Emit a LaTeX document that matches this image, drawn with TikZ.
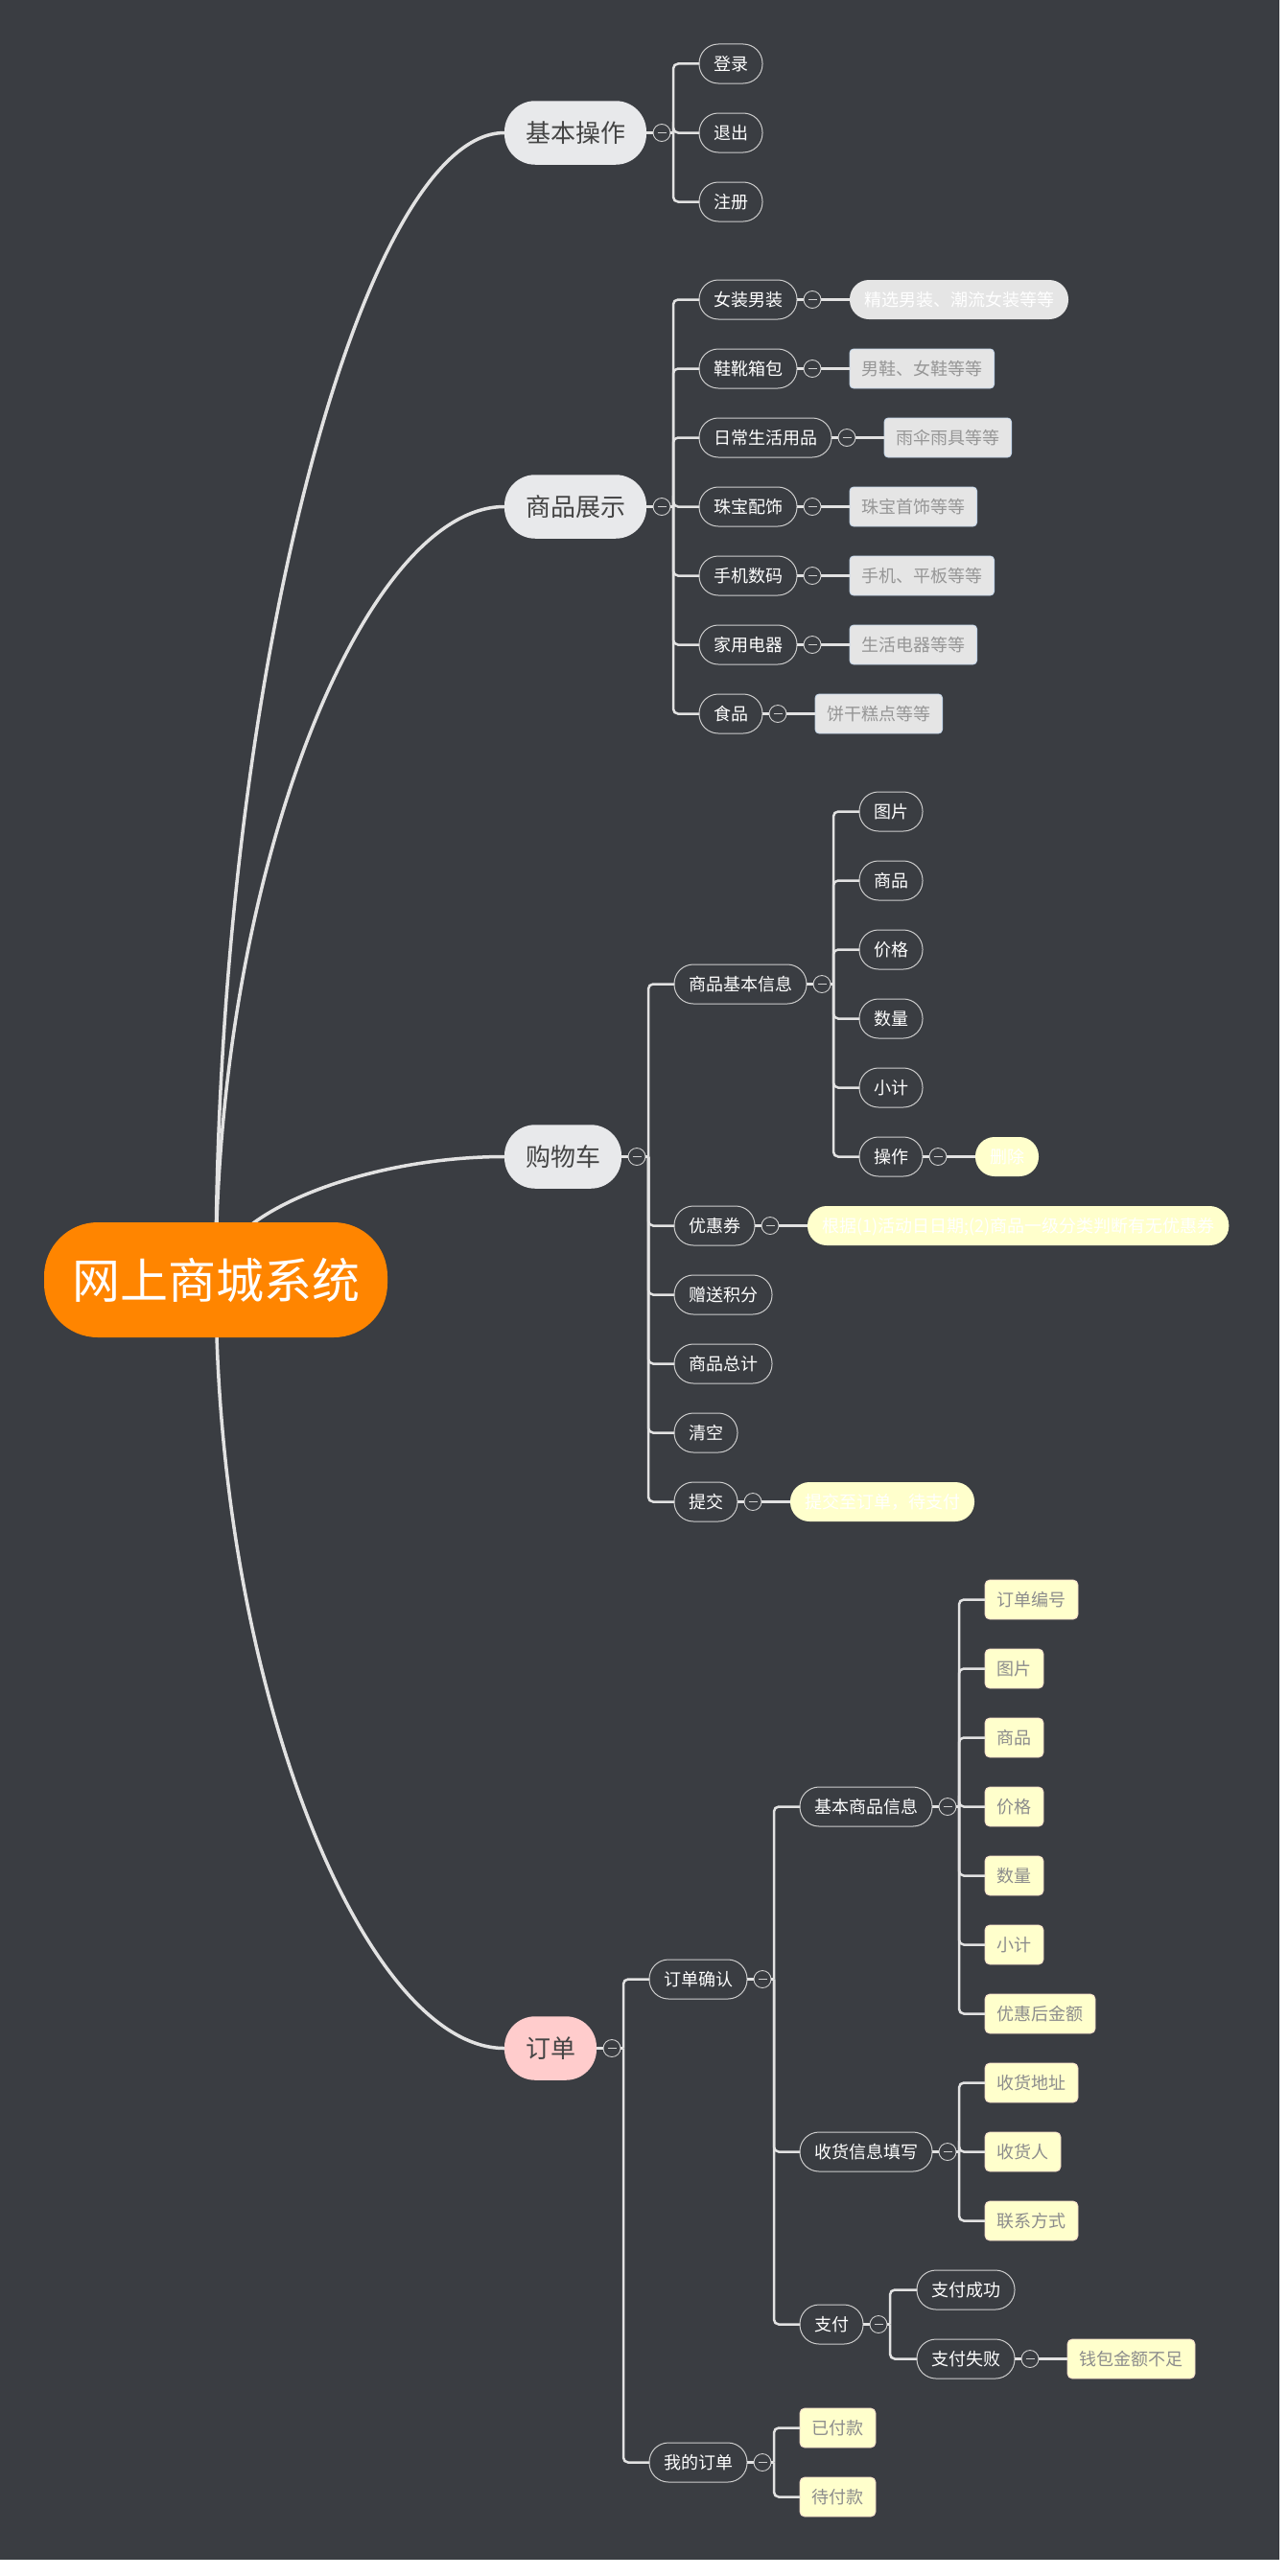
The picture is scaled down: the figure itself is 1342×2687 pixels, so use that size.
\documentclass[tikz,border=0pt]{standalone}
\usepackage{fontspec}
\newfontfamily\cjk{Noto Sans CJK SC}
\usetikzlibrary{calc}
\definecolor{bg}{RGB}{58,61,66}
\definecolor{linecol}{RGB}{226,226,226}
\definecolor{subline}{RGB}{205,205,205}
\definecolor{mainfill}{RGB}{232,233,235}
\definecolor{maintext}{RGB}{68,68,68}
\definecolor{rootfill}{RGB}{255,133,0}
\definecolor{pinkfill}{RGB}{255,204,204}
\definecolor{notegray}{RGB}{229,229,229}
\definecolor{noteblue}{RGB}{196,214,234}
\definecolor{notetext}{RGB}{150,150,150}
\definecolor{yel}{RGB}{255,255,204}
\definecolor{yelborder}{RGB}{242,216,200}
\definecolor{yeltext}{RGB}{140,140,140}
\newcommand\mmfork[2]{%
  \node[mmcol] (#1c) at ($(#1.east)+(16,0)$) {};
  \draw[mmminus] ($(#1c)+(-4.5,0)$) -- ($(#1c)+(4.5,0)$);
  \draw[mmbr] (#1.east) -- (#1c.west);
  \draw[mmbr] (#1c.east) -- ($(#1.east)+(28,0)$);
  \foreach \ch in {#2}{\draw[mmbr, rounded corners=5pt] ($(#1.east)+(28,0)$) |- (\ch.west);}
}
\newcommand\mmone[2]{%
  \node[mmcol] (#1c) at ($(#1.east)+(16,0)$) {};
  \draw[mmminus] ($(#1c)+(-4.5,0)$) -- ($(#1c)+(4.5,0)$);
  \draw[mmbr] (#1.east) -- (#1c.west);
  \draw[mmbr] (#1c.east) -- (#2.west);
}
\begin{document}
\begin{tikzpicture}[x=1pt,y=-1pt,
  mmbase/.style={rectangle, inner ysep=0pt, outer sep=0pt},
  small/.style={mmbase, minimum height=41pt, text height=15.84pt, text depth=2.16pt,
     font=\cjk\fontsize{18}{18}\selectfont},
  mmsub/.style={small, draw=subline, line width=1pt, fill=bg, text=white,
     rounded corners=20pt, inner xsep=15pt},
  mmmain/.style={mmbase, minimum height=66.5pt, text height=22.9pt, text depth=3.1pt,
     font=\cjk\fontsize{26}{26}\selectfont, fill=mainfill, text=maintext,
     rounded corners=32pt, inner xsep=22pt},
  mmroot/.style={mmbase, minimum height=120pt, text height=44pt, text depth=6pt,
     font=\cjk\fontsize{50}{50}\selectfont, fill=rootfill, text=white,
     rounded corners=56pt, inner xsep=29pt},
  graynote/.style={small, fill=notegray, draw=noteblue, line width=0.8pt, text=notetext,
     rounded corners=4pt, inner xsep=12.3pt},
  graypill/.style={small, fill=notegray, text=white, rounded corners=20pt, inner xsep=15pt},
  yelpill/.style={small, fill=yel, text=white, rounded corners=20pt, inner xsep=15pt},
  yelnote/.style={small, fill=yel, draw=yelborder, line width=0.8pt, text=yeltext,
     rounded corners=5pt, inner xsep=12.5pt},
  mmcol/.style={circle, minimum size=18pt, inner sep=0pt, draw=subline, line width=0.9pt, fill=bg},
  mmminus/.style={draw=subline, line width=0.9pt},
  mmbr/.style={draw=linecol, line width=2.5pt},
  mainline/.style={draw=linecol, line width=3.5pt}
]
\fill[white] (0,0) rectangle (1342,2687);
\fill[bg] (0,0) rectangle (1334,2670);
\useasboundingbox (0,0) rectangle (1342,2687);

\coordinate (rc) at (225,1335);

% main branches
\node[mmmain, anchor=west] (jb) at (526,138.5) {基本操作};
\node[mmmain, anchor=west] (sp) at (526,528.5) {商品展示};
\node[mmmain, anchor=west] (gwc) at (526,1206.5) {购物车};
\node[mmmain, anchor=west, fill=pinkfill] (dd) at (526,2136.5) {订单};

\draw[mainline] (rc) .. controls (225,701) and (380,138.5) .. (jb.west);
\draw[mainline] (rc) .. controls (225,907.6) and (380,528.5) .. (sp.west);
\draw[mainline] (rc) .. controls (225,1266.6) and (380,1206.5) .. (gwc.west);
\draw[mainline] (rc) .. controls (225,1759.5) and (380,2136.5) .. (dd.west);

\node[mmroot] (root) at (rc) {网上商城系统};

% 基本操作
\node[mmsub, anchor=west] (jb1) at (729,66.5) {登录};
\node[mmsub, anchor=west] (jb2) at (729,138.5) {退出};
\node[mmsub, anchor=west] (jb3) at (729,210.5) {注册};
\mmfork{jb}{jb1,jb2,jb3}

% 商品展示
\node[mmsub, anchor=west] (sp1) at (729,312.5) {女装男装};
\node[mmsub, anchor=west] (sp2) at (729,384.5) {鞋靴箱包};
\node[mmsub, anchor=west] (sp3) at (729,456.5) {日常生活用品};
\node[mmsub, anchor=west] (sp4) at (729,528.5) {珠宝配饰};
\node[mmsub, anchor=west] (sp5) at (729,600.5) {手机数码};
\node[mmsub, anchor=west] (sp6) at (729,672.5) {家用电器};
\node[mmsub, anchor=west] (sp7) at (729,744.5) {食品};
\mmfork{sp}{sp1,sp2,sp3,sp4,sp5,sp6,sp7}
\node[graypill, anchor=west] (sp1n) at ($(sp1.east)+(55,0)$) {精选男装、潮流女装等等};
\node[graynote, anchor=west] (sp2n) at ($(sp2.east)+(55,0)$) {男鞋、女鞋等等};
\node[graynote, anchor=west] (sp3n) at ($(sp3.east)+(55,0)$) {雨伞雨具等等};
\node[graynote, anchor=west] (sp4n) at ($(sp4.east)+(55,0)$) {珠宝首饰等等};
\node[graynote, anchor=west] (sp5n) at ($(sp5.east)+(55,0)$) {手机、平板等等};
\node[graynote, anchor=west] (sp6n) at ($(sp6.east)+(55,0)$) {生活电器等等};
\node[graynote, anchor=west] (sp7n) at ($(sp7.east)+(55,0)$) {饼干糕点等等};
\mmone{sp1}{sp1n}
\mmone{sp2}{sp2n}
\mmone{sp3}{sp3n}
\mmone{sp4}{sp4n}
\mmone{sp5}{sp5n}
\mmone{sp6}{sp6n}
\mmone{sp7}{sp7n}

% 购物车
\node[mmsub, anchor=west] (g1) at (703,1026.5) {商品基本信息};
\node[mmsub, anchor=west] (g2) at (703,1278.5) {优惠券};
\node[mmsub, anchor=west] (g3) at (703,1350.5) {赠送积分};
\node[mmsub, anchor=west] (g4) at (703,1422.5) {商品总计};
\node[mmsub, anchor=west] (g5) at (703,1494.5) {清空};
\node[mmsub, anchor=west] (g6) at (703,1566.5) {提交};
\mmfork{gwc}{g1,g2,g3,g4,g5,g6}
\node[mmsub, anchor=west] (g11) at (896,846.5) {图片};
\node[mmsub, anchor=west] (g12) at (896,918.5) {商品};
\node[mmsub, anchor=west] (g13) at (896,990.5) {价格};
\node[mmsub, anchor=west] (g14) at (896,1062.5) {数量};
\node[mmsub, anchor=west] (g15) at (896,1134.5) {小计};
\node[mmsub, anchor=west] (g16) at (896,1206.5) {操作};
\mmfork{g1}{g11,g12,g13,g14,g15,g16}
\node[yelpill, anchor=west] (g16n) at ($(g16.east)+(55,0)$) {删除};
\mmone{g16}{g16n}
\node[yelpill, anchor=west] (g2n) at ($(g2.east)+(55,0)$) {根据(1)活动日日期;(2)商品一级分类判断有无优惠券};
\mmone{g2}{g2n}
\node[yelpill, anchor=west] (g6n) at ($(g6.east)+(55,0)$) {提交至订单，待支付};
\mmone{g6}{g6n}

% 订单
\node[mmsub, anchor=west] (d1) at (677,2064.5) {订单确认};
\node[mmsub, anchor=west] (d2) at (677,2568.5) {我的订单};
\mmfork{dd}{d1,d2}
\node[mmsub, anchor=west] (d11) at (834,1884.5) {基本商品信息};
\node[mmsub, anchor=west] (d12) at (834,2244.5) {收货信息填写};
\node[mmsub, anchor=west] (d13) at (834,2424.5) {支付};
\mmfork{d1}{d11,d12,d13}
\node[yelnote, anchor=west] (e1) at (1027,1668.5) {订单编号};
\node[yelnote, anchor=west] (e2) at (1027,1740.5) {图片};
\node[yelnote, anchor=west] (e3) at (1027,1812.5) {商品};
\node[yelnote, anchor=west] (e4) at (1027,1884.5) {价格};
\node[yelnote, anchor=west] (e5) at (1027,1956.5) {数量};
\node[yelnote, anchor=west] (e6) at (1027,2028.5) {小计};
\node[yelnote, anchor=west] (e7) at (1027,2100.5) {优惠后金额};
\mmfork{d11}{e1,e2,e3,e4,e5,e6,e7}
\node[yelnote, anchor=west] (f1) at (1027,2172.5) {收货地址};
\node[yelnote, anchor=west] (f2) at (1027,2244.5) {收货人};
\node[yelnote, anchor=west] (f3) at (1027,2316.5) {联系方式};
\mmfork{d12}{f1,f2,f3}
\node[mmsub, anchor=west] (h1) at (956,2388.5) {支付成功};
\node[mmsub, anchor=west] (h2) at (956,2460.5) {支付失败};
\mmfork{d13}{h1,h2}
\node[yelnote, anchor=west] (h2n) at ($(h2.east)+(55,0)$) {钱包金额不足};
\mmone{h2}{h2n}
\node[yelnote, anchor=west] (k1) at (834,2532.5) {已付款};
\node[yelnote, anchor=west] (k2) at (834,2604.5) {待付款};
\mmfork{d2}{k1,k2}
\end{tikzpicture}
\end{document}
